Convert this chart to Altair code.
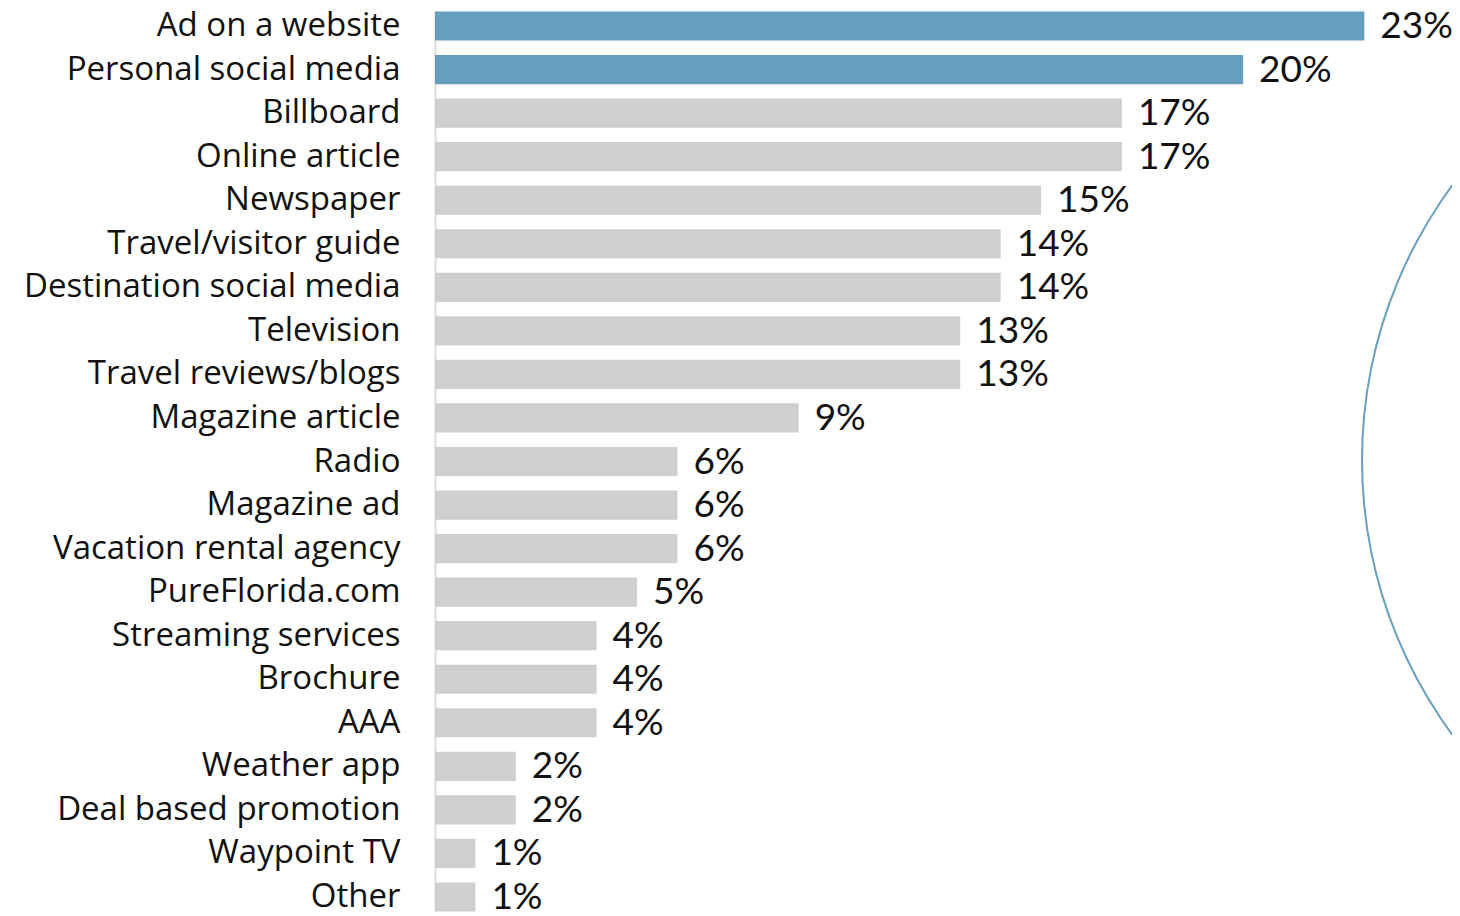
import altair as alt
import pandas as pd

categories = [
    "Ad on a website", "Personal social media", "Billboard", "Online article",
    "Newspaper", "Travel/visitor guide", "Destination social media", "Television",
    "Travel reviews/blogs", "Magazine article", "Radio", "Magazine ad",
    "Vacation rental agency", "PureFlorida.com", "Streaming services", "Brochure",
    "AAA", "Weather app", "Deal based promotion", "Waypoint TV", "Other",
]
values = [23, 20, 17, 17, 15, 14, 14, 13, 13, 9, 6, 6, 6, 5, 4, 4, 4, 2, 2, 1, 1]
highlight = [True, True] + [False] * 19

df = pd.DataFrame({
    "cat": categories,
    "val": values,
    "hl": highlight,
    "label": [f"{v}%" for v in values],
})

LABEL_FONT = "Open Sans"
NUM_FONT = "Lato"
W, H = 1017, 901

y = alt.Y("cat:N", sort=categories, title=None,
          scale=alt.Scale(paddingInner=0.33, paddingOuter=0.01),
          axis=alt.Axis(domain=True, domainColor="#dcdcdc", domainWidth=2,
                        ticks=False, labelPadding=35, labelFontSize=33,
                        labelFont=LABEL_FONT, labelColor="#111111",
                        labelLimit=500, grid=False))
x = alt.X("val:Q", title=None, scale=alt.Scale(domain=[0, 25.17], nice=False),
          axis=None)

bars = alt.Chart(df).mark_bar().encode(
    x=x, y=y,
    color=alt.Color("hl:N", scale=alt.Scale(domain=[True, False],
                                            range=["#669ec0", "#d0cfd0"]),
                    legend=None),
)

labels = alt.Chart(df).mark_text(
    align="left", baseline="middle", dx=16, dy=1, fontSize=37, font=NUM_FONT,
    color="#111111"
).encode(x=x, y=y, text="label:N")

arc = alt.Chart(alt.Data(values=[{"a": 1}])).mark_arc(
    color="#6a9fc0", clip=True
).encode(
    x=alt.value(1390), y=alt.value(449),
    radius=alt.value(464), radius2=alt.value(462),
    theta=alt.value(0), theta2=alt.value(6.2832),
)

chart = alt.layer(bars, labels, arc).properties(
    width=W, height=H,
    autosize=alt.AutoSizeParams(type="none"),
    padding={"left": 427, "top": 3, "right": 0, "bottom": 7},
).configure_view(stroke=None)

chart.save("out.html", embed_options={"renderer": "svg", "actions": False})
